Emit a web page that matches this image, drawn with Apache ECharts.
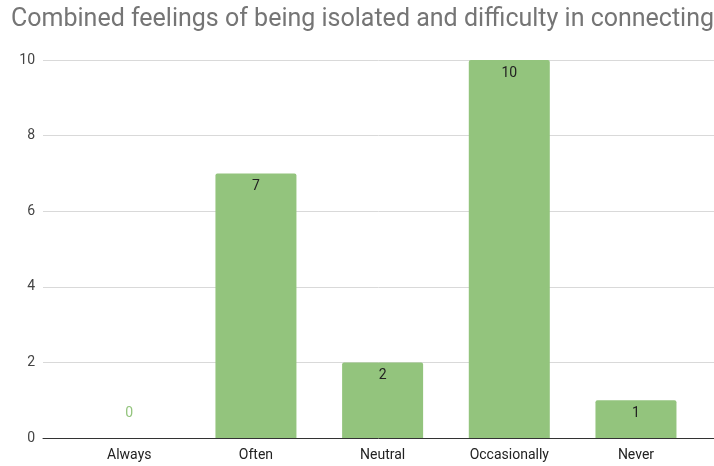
<!DOCTYPE html>
<html><head><meta charset="utf-8">
<script src="https://cdn.jsdelivr.net/npm/echarts@6/dist/echarts.min.js"></script>
<style>html,body{margin:0;padding:0;background:#fff}#c{width:714px;height:466px}</style>
</head><body><div id="c"></div>
<script>
const titleText = 'Combined feelings of being isolated and difficulty in connecting';
const categories = ['Always', 'Often', 'Neutral', 'Occasionally', 'Never'];
const values = [0, 7, 2, 10, 1];
const yTicks = [0, 2, 4, 6, 8, 10];

const barColor = '#93c47d';
const chart = echarts.init(document.getElementById('c'), null, {renderer: 'canvas'});
const seriesData = values.map((v, i) => {
  const item = {value: [i, v]};
  if (v === 0) {
    item.label = {position: 'top', distance: 18, color: barColor};
  }
  return item;
});
chart.setOption({
  animation: false,
  backgroundColor: '#fff',
  textStyle: {fontFamily: 'Roboto'},
  title: {
    text: titleText, left: 6, top: 2,
    textStyle: {fontFamily: 'Roboto', fontSize: 25, fontWeight: 'normal', color: '#757575'}
  },
  grid: {left: 43, right: 0, top: 60, bottom: 28, containLabel: false},
  xAxis: {
    type: 'value', min: -0.681, max: 4.616,
    splitLine: {show: false},
    axisTick: {show: false},
    axisLine: {show: true, onZero: true, lineStyle: {color: '#333', width: 1}},
    axisLabel: {
      customValues: categories.map((c, i) => i),
      formatter: v => categories[Math.round(v)] || '',
      fontSize: 14, color: '#222', margin: 10, fontFamily: 'Roboto'
    }
  },
  yAxis: {
    type: 'value', min: yTicks[0], max: yTicks[yTicks.length - 1], interval: 2,
    axisLine: {show: false}, axisTick: {show: false},
    splitLine: {lineStyle: {color: '#d9d9d9', width: 1}},
    axisLabel: {fontSize: 14, color: '#444', margin: 8, fontFamily: 'Roboto'}
  },
  series: [{
    type: 'bar',
    data: seriesData,
    barWidth: 81,
    itemStyle: {color: barColor, borderRadius: [2, 2, 0, 0]},
    label: {show: true, position: 'insideTop', distance: 6, fontSize: 14, color: '#222', fontFamily: 'Roboto',
      formatter: p => p.value[1]}
  }]
});
</script></body></html>
